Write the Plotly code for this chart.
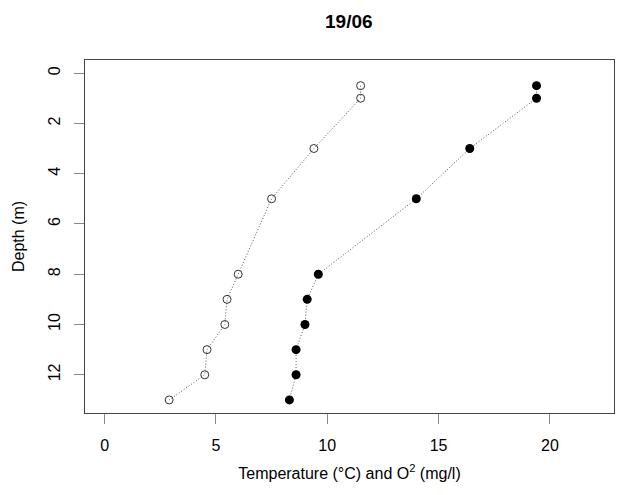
import plotly.graph_objects as go

depth = [0.5, 1, 3, 5, 8, 9, 10, 11, 12, 13]
oxygen = [11.5, 11.5, 9.4, 7.5, 6.0, 5.5, 5.4, 4.6, 4.5, 2.9]
temperature = [19.4, 19.4, 16.4, 14.0, 9.6, 9.1, 9.0, 8.6, 8.6, 8.3]
x_ticks = [0, 5, 10, 15, 20]
y_ticks = [0, 2, 4, 6, 8, 10, 12]

FONT = "Liberation Sans, Arial, sans-serif"

fig = go.Figure()
fig.add_trace(go.Scatter(
    x=oxygen, y=depth, mode="lines+markers",
    line=dict(color="#555555", width=1, dash="1px,2px"),
    marker=dict(symbol="circle-open", size=8, color="#333333", line=dict(width=1, color="#333333")),
    showlegend=False,
))
fig.add_trace(go.Scatter(
    x=temperature, y=depth, mode="lines+markers",
    line=dict(color="#555555", width=1, dash="1px,2px"),
    marker=dict(symbol="circle", size=9, color="black"),
    showlegend=False,
))

fig.update_layout(
    width=619, height=495,
    margin=dict(l=85, r=5, t=60, b=82),
    plot_bgcolor="white", paper_bgcolor="white",
    font=dict(family=FONT, size=16, color="black"),
    title=dict(text="<b>19/06</b>", x=0.5635, xanchor="center", y=1 - 21 / 495, yanchor="middle",
               font=dict(size=19, family=FONT, color="black")),
    xaxis=dict(
        range=[-0.88, 22.88], tickvals=x_ticks, ticktext=[str(v) for v in x_ticks],
        ticks="outside", ticklen=10, tickcolor="#888888", tickwidth=1,
        showline=True, linecolor="#444444", linewidth=1, mirror=True,
        showgrid=False, zeroline=False, ticklabelstandoff=8,
        title=dict(text="Temperature (°C) and O<sup>2</sup> (mg/l)", standoff=14,
                   font=dict(size=16)),
    ),
    yaxis=dict(
        range=[13.52, -0.52], tickvals=y_ticks, ticktext=[str(v) for v in y_ticks],
        ticks="outside", ticklen=10, tickcolor="#888888", tickwidth=1,
        showline=True, linecolor="#444444", linewidth=1, mirror=True,
        showgrid=False, zeroline=False, tickangle=-90, ticklabelstandoff=8,
        title=dict(text="Depth (m)", standoff=16, font=dict(size=16)),
    ),
)

fig.write_html("out.html")
